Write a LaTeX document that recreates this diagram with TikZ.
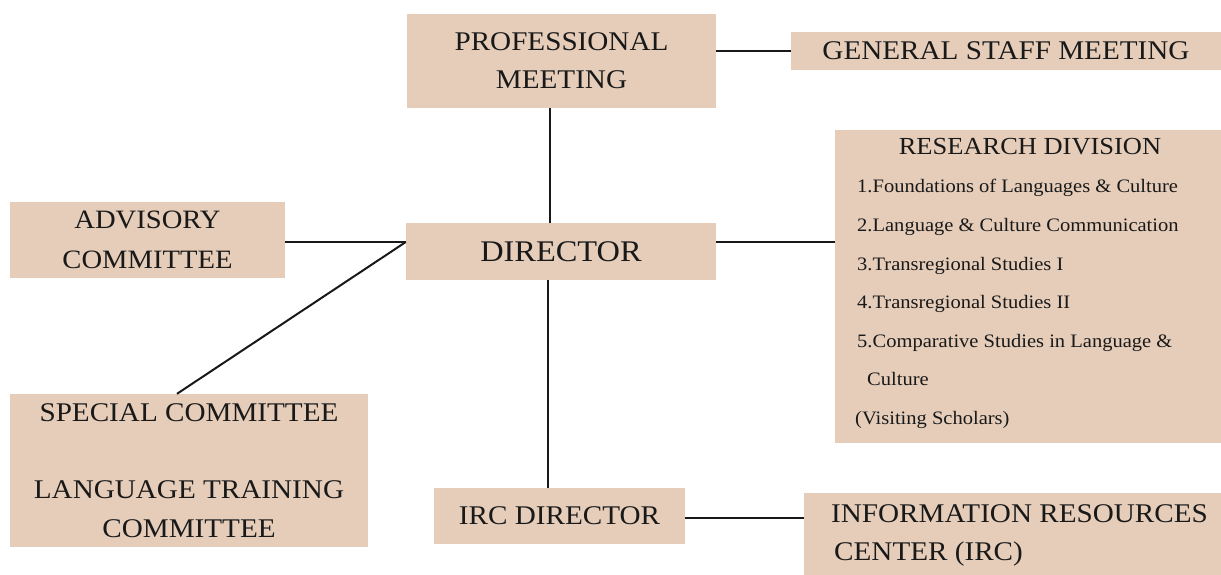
\documentclass[tikz,border=0pt]{standalone}
\usepackage{fontspec}
\setmainfont{Liberation Serif}[FakeStretch=1.08]
\definecolor{boxfill}{RGB}{229,205,186}
\definecolor{ink}{RGB}{25,25,25}
\begin{document}
\begin{tikzpicture}[x=1pt,y=-1pt,
  box/.style={fill=boxfill, draw=none, inner sep=0pt, text=ink, align=center, font=\fontsize{27}{38}\selectfont},
  item/.style={anchor=base west, inner sep=0pt, text=ink, font=\fontsize{19}{23}\selectfont},
  conn/.style={draw=ink, line width=2pt}]
\useasboundingbox (0,0) rectangle (1221,575);
\fill[white] (0,0) rectangle (1221,575);
% boxes
\node[box, minimum width=309pt, minimum height=94pt] (pm) at (561.5,61) {PROFESSIONAL\\MEETING};
\node[box, minimum width=430pt, minimum height=38pt] (gsm) at (1006,51) {GENERAL STAFF MEETING};
\node[box, minimum width=310pt, minimum height=57pt, font=\fontsize{30}{38}\selectfont] (dir) at (561,251.5) {DIRECTOR};
\node[box, minimum width=275pt, minimum height=76pt, font=\fontsize{26.5}{40}\selectfont] (adv) at (147.5,240) {ADVISORY\\COMMITTEE};
\node[box, minimum width=358pt, minimum height=153pt, font=\fontsize{27}{38.5}\selectfont] (spec) at (189,470.5) {SPECIAL COMMITTEE\\[38.5pt]LANGUAGE TRAINING\\COMMITTEE};
\node[box, minimum width=251pt, minimum height=56pt] (ircd) at (559.5,516) {IRC DIRECTOR};
\node[box, minimum width=417pt, minimum height=82pt] (irc) at (1012.5,534) {};
\node[item, font=\fontsize{27}{38}\selectfont] (irc1) at (831,522) {INFORMATION RESOURCES};
\node[item, font=\fontsize{27}{38}\selectfont] (irc2) at (834,560) {CENTER (IRC)};
\node[box, minimum width=386pt, minimum height=313pt] (rd) at (1028,286.5) {};
\node[anchor=base, inner sep=0pt, text=ink, font=\fontsize{24.5}{30}\selectfont] (rdh) at (1030,155) {RESEARCH DIVISION};
\node[item] (rd1) at (857,193) {1.Foundations of Languages \& Culture};
\node[item] (rd2) at (857,231.5) {2.Language \& Culture Communication};
\node[item] (rd3) at (857,270) {3.Transregional Studies I};
\node[item] (rd4) at (857,308.5) {4.Transregional Studies II};
\node[item] (rd5) at (857,347) {5.Comparative Studies in Language \&};
\node[item] (rd6) at (867,385.5) {Culture};
\node[item] (rd7) at (855,424) {(Visiting Scholars)};
% connectors
\coordinate (dl) at ([yshift=9.5pt]dir.west);
\coordinate (dr) at ([yshift=9.5pt]dir.east);
\draw[conn] (pm.east |- gsm.west) -- (gsm.west);
\draw[conn] ([xshift=-11.5pt]pm.south) -- ([xshift=-11.5pt]pm.south |- dir.north);
\draw[conn] (dr) -- (dr -| rd.west);
\draw[conn] (adv.east |- dl) -- (dl);
\draw[conn] (dl) -- ([xshift=-12pt]spec.north);
\draw[conn] ([xshift=-13pt]dir.south) -- ([xshift=-13pt]dir.south |- ircd.north);
\draw[conn] ([yshift=-2pt]ircd.east) -- ([yshift=-2pt]ircd.east -| irc.west);
\end{tikzpicture}
\end{document}
